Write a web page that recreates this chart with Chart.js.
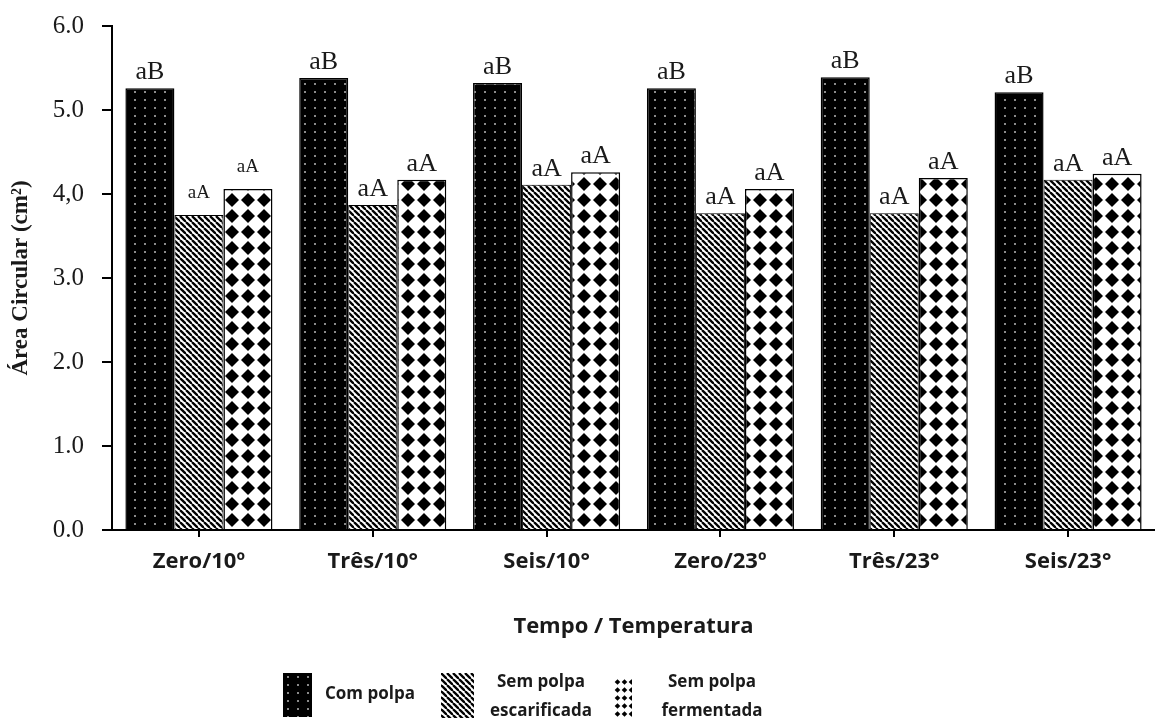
<!DOCTYPE html>
<html>
<head>
<meta charset="utf-8">
<script src="https://cdn.jsdelivr.net/npm/chart.js@4.4.1/dist/chart.umd.min.js"></script>
<style>
html,body{margin:0;padding:0;background:#fff;}
#wrap{width:1155px;height:720px;}
</style>
</head>
<body>
<div id="wrap"><canvas id="c" width="1155" height="720"></canvas></div>
<script>
// ---- data ----
const categories = ['Zero/10º', 'Três/10°', 'Seis/10°', 'Zero/23º', 'Três/23°', 'Seis/23°'];
const seriesNames = ['Com polpa', 'Sem polpa escarificada', 'Sem polpa fermentada'];
const legendLines = [['Com polpa'], ['Sem polpa', 'escarificada'], ['Sem polpa', 'fermentada']];
const comPolpa = [5.26, 5.38, 5.32, 5.26, 5.39, 5.21];
const semPolpaEscarificada = [3.75, 3.87, 4.11, 3.77, 3.77, 4.17];
const semPolpaFermentada = [4.06, 4.17, 4.26, 4.06, 4.19, 4.24];
const comLetters = ['aB', 'aB', 'aB', 'aB', 'aB', 'aB'];
const escLetters = ['aA', 'aA', 'aA', 'aA', 'aA', 'aA'];
const fermLetters = ['aA', 'aA', 'aA', 'aA', 'aA', 'aA'];
const yTickLabels = ['0.0', '1.0', '2.0', '3.0', '4,0', '5.0', '6.0'];
const yTitle = 'Área Circular (cm²)';
const xTitle = 'Tempo / Temperatura';

const letters = [comLetters, escLetters, fermLetters];

// ---- patterns ----
function tile(w, h, draw) {
  const c = document.createElement('canvas');
  c.width = w; c.height = h;
  draw(c.getContext('2d'), w, h);
  return c;
}
const ctx0 = document.getElementById('c').getContext('2d');
const dotTile = tile(10, 8, (g, w, h) => {
  g.fillStyle = '#000'; g.fillRect(0, 0, w, h);
  g.fillStyle = '#8a8a8a'; g.fillRect(4, 3, 2, 2);
});
const stripeTile = tile(6, 6, (g, w, h) => {
  g.fillStyle = '#fff'; g.fillRect(0, 0, w, h);
  g.strokeStyle = '#000'; g.lineWidth = 2.3;
  for (const x0 of [-6, 0, 6]) {
    g.beginPath(); g.moveTo(x0, 0); g.lineTo(x0 + 6, 6); g.stroke();
  }
});
function diamondTile(w, h, r) {
  return tile(w, h, (g) => {
    g.fillStyle = '#fff'; g.fillRect(0, 0, w, h);
    g.fillStyle = '#000';
    const cx = w / 2, cy = h / 2;
    g.beginPath();
    g.moveTo(cx, cy - r); g.lineTo(cx + r, cy); g.lineTo(cx, cy + r); g.lineTo(cx - r, cy);
    g.closePath(); g.fill();
  });
}
const dotPat = ctx0.createPattern(dotTile, 'repeat');
const stripePat = ctx0.createPattern(stripeTile, 'repeat');
const diamondPat = ctx0.createPattern(diamondTile(16, 16, 7), 'repeat');
const smallDiamondPat = ctx0.createPattern(diamondTile(7, 8, 2.8), 'repeat');

// ---- plugins ----
const labelPlugin = {
  id: 'barLetters',
  afterDatasetsDraw(chart) {
    const ctx = chart.ctx;
    ctx.save();
    ctx.fillStyle = '#1a1a1a';
    ctx.textAlign = 'center';
    ctx.textBaseline = 'alphabetic';
    chart.data.datasets.forEach((ds, di) => {
      const meta = chart.getDatasetMeta(di);
      meta.data.forEach((bar, i) => {
        const small = (i === 0 && di > 0);
        ctx.font = small ? '19px "Liberation Serif"' : '26px "Liberation Serif"';
        ctx.fillText(letters[di][i], bar.x, bar.y - (small ? 17 : 9));
      });
    });
    ctx.restore();
  }
};

const legendPlugin = {
  id: 'customLegend',
  afterDraw(chart) {
    const ctx = chart.ctx;
    const items = [
      { box: [283, 673, 29, 44], pat: dotPat, textX: 325, align: 'left' },
      { box: [441, 673, 33, 45], pat: stripePat, textX: 541, align: 'center' },
      { box: [614, 678, 18, 40], pat: smallDiamondPat, textX: 712, align: 'center' }
    ];
    ctx.save();
    items.forEach((it, k) => {
      const [x, y, w, h] = it.box;
      ctx.save();
      ctx.translate(x, y);
      ctx.fillStyle = it.pat;
      ctx.fillRect(0, 0, w, h);
      ctx.restore();
      ctx.fillStyle = '#1a1a1a';
      ctx.font = 'bold 17px "Open Sans"';
      ctx.textAlign = it.align;
      ctx.textBaseline = 'middle';
      const lines = legendLines[k];
      if (lines.length === 1) {
        ctx.fillText(lines[0], it.textX, 694);
      } else {
        ctx.fillText(lines[0], it.textX, 682);
        ctx.fillText(lines[1], it.textX, 711);
      }
    });
    ctx.restore();
  }
};

new Chart(document.getElementById('c'), {
  type: 'bar',
  data: {
    labels: categories,
    datasets: [
      { label: seriesNames[0], data: comPolpa, backgroundColor: dotPat, borderColor: '#000', borderWidth: 1.5 },
      { label: seriesNames[1], data: semPolpaEscarificada, backgroundColor: stripePat, borderColor: '#000', borderWidth: 1 },
      { label: seriesNames[2], data: semPolpaFermentada, backgroundColor: diamondPat, borderColor: '#000', borderWidth: 1.5 }
    ]
  },
  options: {
    responsive: false,
    animation: false,
    devicePixelRatio: 1,
    layout: { padding: { top: 26, right: 0, bottom: 70, left: 0 } },
    datasets: { bar: { categoryPercentage: 0.846, barPercentage: 1.0 } },
    plugins: {
      legend: { display: false },
      tooltip: { enabled: false }
    },
    scales: {
      x: {
        afterFit(s) { s.height = 120; s.paddingLeft = 0; s.paddingRight = 0; },
        grid: { display: true, drawOnChartArea: false, drawTicks: true, tickLength: 7, color: '#000', lineWidth: 2, offset: false },
        border: { display: true, color: '#000', width: 2 },
        ticks: { color: '#1a1a1a', font: { family: 'Open Sans', size: 22, weight: 'bold' }, padding: 12, maxRotation: 0, autoSkip: false },
        title: { display: true, text: xTitle, color: '#1a1a1a', font: { family: 'Open Sans', size: 22, weight: 'bold' }, padding: { top: 0, bottom: 10 } }
      },
      y: {
        min: 0, max: 6,
        afterFit(s) { s.width = 112; s.paddingTop = 0; s.paddingBottom = 0; },
        grid: { display: true, drawOnChartArea: false, drawTicks: true, tickLength: 10, color: '#000', lineWidth: 2 },
        border: { display: true, color: '#000', width: 2 },
        ticks: {
          stepSize: 1,
          color: '#1a1a1a',
          font: { family: 'Liberation Serif', size: 25 },
          padding: 18,
          callback: (v, i) => yTickLabels[i]
        },
        title: { display: true, text: yTitle, color: '#1a1a1a', font: { family: 'Liberation Serif', size: 23, weight: 'bold' }, padding: { top: 7, bottom: 0 } }
      }
    }
  },
  plugins: [labelPlugin, legendPlugin]
});
</script>
</body>
</html>
